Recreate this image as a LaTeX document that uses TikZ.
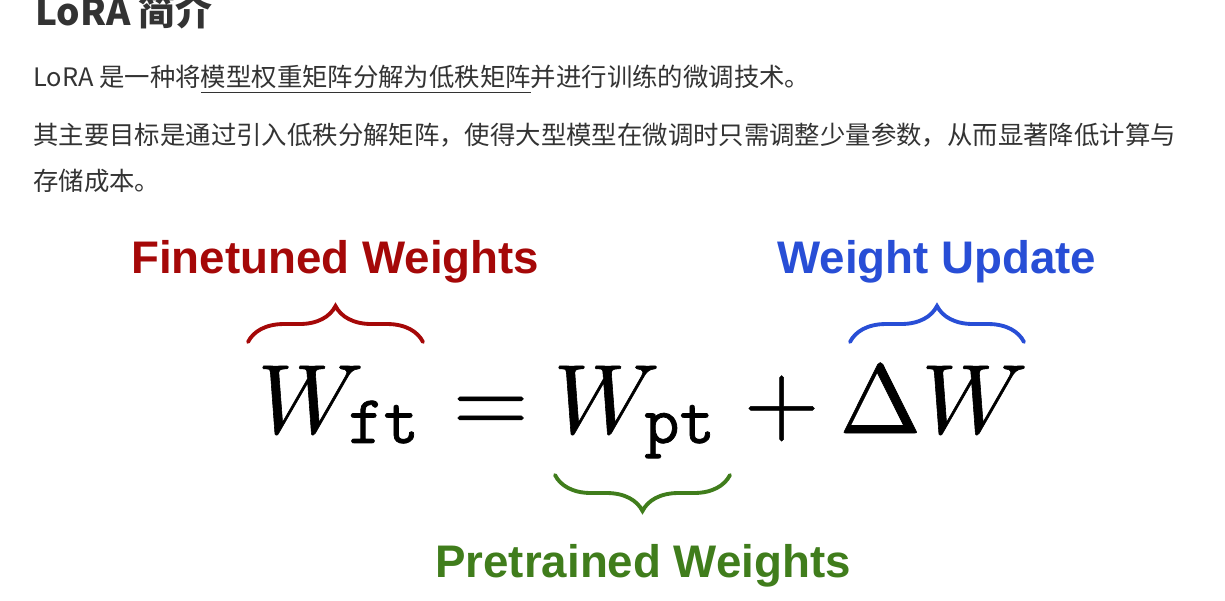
\documentclass[tikz,border=0pt]{standalone}
\usepackage{fontspec}
\usepackage{unicode-math}
\setmathfont{Latin Modern Math}[FakeBold=0.6]
\newfontfamily\cjk{Noto Sans CJK SC}
\newfontfamily\lab{Liberation Sans}
\newfontface\subttfont{Latin Modern Mono}[FakeBold=1.1]
\usetikzlibrary{decorations.pathreplacing}
\definecolor{bodygray}{RGB}{51,51,51}
\definecolor{finered}{RGB}{165,8,8}
\definecolor{updblue}{RGB}{40,78,214}
\definecolor{pregreen}{RGB}{64,125,28}
\newcommand{\subtxt}[1]{\kern-8.5pt\raisebox{-5.67pt}{\subttfont\fontsize{39}{40}\selectfont #1}}
\tikzset{
  bodytext/.style={anchor=base west, inner sep=0pt, text=bodygray, font=\cjk\fontsize{14.45}{16}\selectfont},
  headtext/.style={anchor=base west, inner sep=0pt, text=bodygray, font=\cjk\bfseries\fontsize{21}{24}\selectfont},
  mathbig/.style={anchor=base west, inner sep=0pt, text=black, font=\fontsize{56}{58}\selectfont},
  labeltext/.style={anchor=base west, inner sep=0pt, font=\lab\bfseries\fontsize{26}{30}\selectfont},
  bracestyle/.style={decorate, decoration={brace, amplitude=0.72cm}, line width=2.2pt, line cap=round}
}
\begin{document}
\begin{tikzpicture}[x=0.02cm, y=-0.02cm]
\useasboundingbox[fill=white] (0,0) rectangle (1225,600);
% text
\node[headtext] (head) at (35,25) {LoRA 简介};
\node[bodytext] (line1) at (33,86.5) {LoRA 是一种将\underline{模型权重矩阵分解为低秩矩阵}并进行训练的微调技术。};
\node[bodytext] (line2) at (33,144.5) {其主要目标是通过引入低秩分解矩阵，使得大型模型在微调时只需调整少量参数，从而显著降低计算与};
\node[bodytext] (line3) at (33,190) {存储成本。};
% formula
\node[mathbig] (wft) at (257,433) {$W$\subtxt{ft}};
\node[mathbig] (eqs) at (452,433) {$=$};
\node[mathbig] (wpt) at (553,433) {$W$\subtxt{pt}};
\node[mathbig] (plus) at (743,433) {$+$};
\node[mathbig] (dw) at (839,433) {$\Delta W$};
% braces
\coordinate (ra) at (248,342);
\coordinate (rb) at (423,342);
\coordinate (ga) at (730,475);
\coordinate (gb) at (555,475);
\coordinate (ba) at (850,342);
\coordinate (bb) at (1024,342);
\draw[bracestyle, finered] (ra) -- (rb);
\draw[bracestyle, pregreen] (ga) -- (gb);
\draw[bracestyle, updblue] (ba) -- (bb);
% labels
\node[labeltext, text=finered] (ftlab) at (131,273) {Finetuned Weights};
\node[labeltext, text=updblue] (uplab) at (777,273) {Weight Update};
\node[labeltext, text=pregreen] (ptlab) at (435,577) {Pretrained Weights};
\end{tikzpicture}
\end{document}
